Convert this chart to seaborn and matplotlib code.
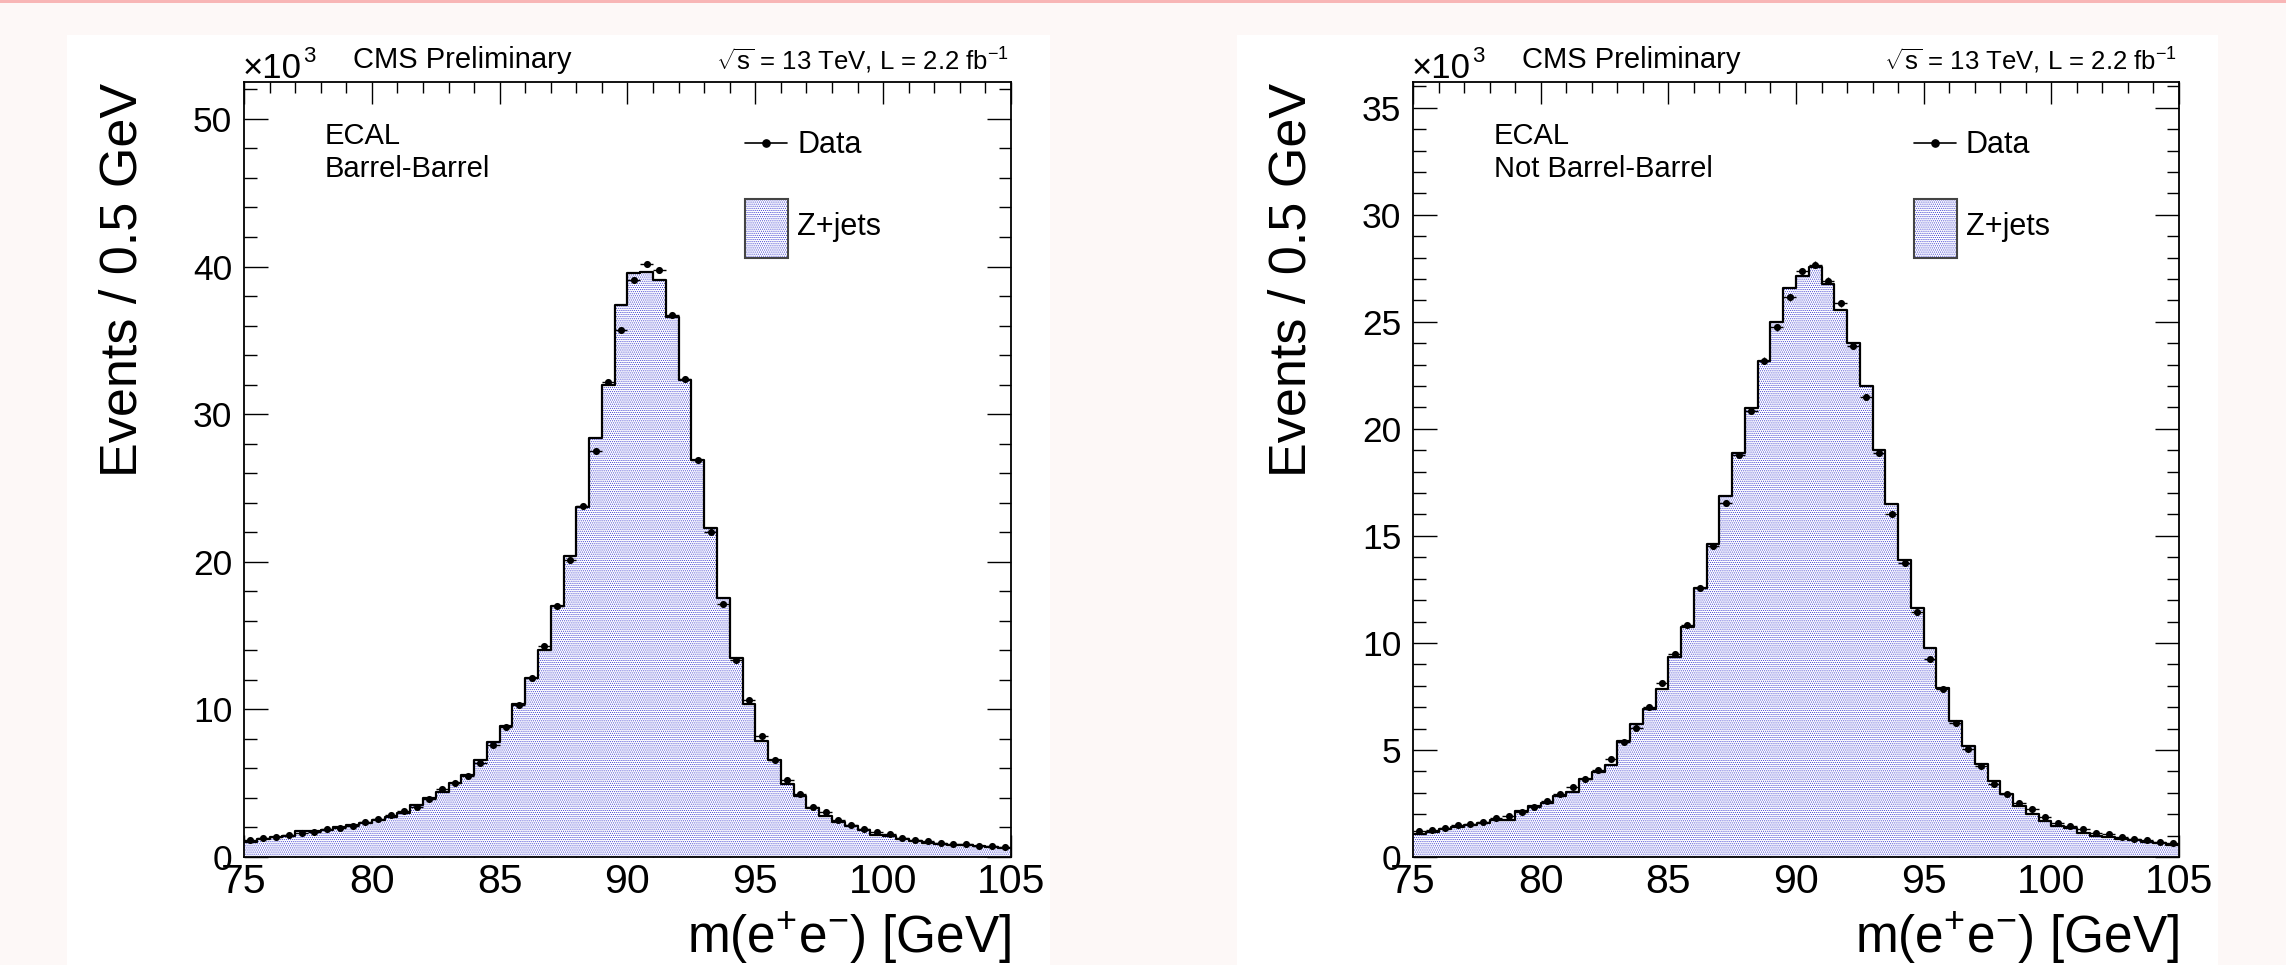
import numpy as np
import pandas as pd
import matplotlib
matplotlib.use("Agg")
import matplotlib.pyplot as plt
import seaborn as sns
from matplotlib.patches import Rectangle
from matplotlib.lines import Line2D
from matplotlib.ticker import MultipleLocator, FuncFormatter

# ---------------- data (events per 0.5 GeV, in units of 10^3) ----------------
mass_low, mass_high, bin_width = 75.0, 105.0, 0.5

bb_data = [1.15, 1.30, 1.37, 1.49, 1.60, 1.71, 1.87, 1.99, 2.12, 2.35,
           2.55, 2.85, 3.12, 3.42, 3.91, 4.59, 5.00, 5.52, 6.40, 7.57,
           8.82, 10.30, 12.10, 14.30, 17.00, 20.10, 23.75, 27.50, 32.18, 35.68,
           39.07, 40.20, 39.75, 36.75, 32.38, 26.87, 22.05, 17.16, 13.36, 10.64,
           8.23, 6.59, 5.23, 4.25, 3.41, 3.02, 2.50, 2.20, 1.93, 1.70,
           1.55, 1.32, 1.18, 1.09, 0.98, 0.91, 0.91, 0.77, 0.73, 0.68]
bb_mc = [1.04, 1.20, 1.33, 1.42, 1.78, 1.78, 1.83, 2.01, 2.17, 2.33,
         2.51, 2.73, 3.00, 3.52, 3.97, 4.38, 5.04, 5.56, 6.58, 7.82,
         8.86, 10.34, 12.10, 14.00, 17.00, 20.40, 23.70, 28.40, 31.95, 37.36,
         39.53, 39.64, 39.12, 36.59, 32.34, 26.90, 22.30, 17.57, 13.45, 10.39,
         7.84, 6.55, 4.93, 4.14, 3.30, 2.77, 2.39, 2.09, 1.82, 1.52,
         1.43, 1.20, 1.09, 0.98, 0.91, 0.84, 0.80, 0.73, 0.68, 0.64]

nbb_data = [1.21, 1.26, 1.34, 1.50, 1.54, 1.65, 1.81, 1.92, 2.12, 2.32,
            2.62, 2.93, 3.26, 3.63, 4.07, 4.56, 5.39, 6.04, 7.02, 8.15,
            9.49, 10.84, 12.56, 14.51, 16.54, 18.79, 20.84, 23.18, 24.74, 26.14,
            27.35, 27.66, 26.92, 25.87, 23.89, 21.48, 18.89, 16.04, 13.73, 11.44,
            9.25, 7.83, 6.28, 5.03, 4.25, 3.40, 2.93, 2.51, 2.24, 1.85,
            1.60, 1.46, 1.29, 1.11, 1.07, 0.95, 0.84, 0.79, 0.72, 0.67]
nbb_mc = [1.07, 1.18, 1.29, 1.42, 1.50, 1.60, 1.73, 1.73, 2.15, 2.38,
          2.54, 2.85, 3.05, 3.63, 3.99, 4.30, 5.42, 6.20, 6.90, 7.84,
          9.33, 10.76, 12.56, 14.62, 16.85, 18.86, 20.97, 23.15, 24.98, 26.57,
          27.12, 27.54, 26.78, 25.56, 24.00, 21.98, 18.99, 16.50, 13.88, 11.65,
          9.75, 7.88, 6.37, 5.19, 4.33, 3.57, 2.93, 2.40, 2.01, 1.70,
          1.45, 1.34, 1.11, 0.98, 0.95, 0.84, 0.79, 0.72, 0.64, 0.56]

regions = ["Barrel-Barrel", "Not Barrel-Barrel"]
y_tops = [52.5, 36.2]
y_major = [10, 5]
y_minor = [2, 1]

# ---------------- style ----------------
sns.set_style("ticks")
plt.rcParams["font.family"] = ["Liberation Sans", "DejaVu Sans"]
plt.rcParams["mathtext.fontset"] = "custom"
plt.rcParams["mathtext.rm"] = "Liberation Sans"
plt.rcParams["mathtext.it"] = "Liberation Sans:italic"
plt.rcParams["mathtext.bf"] = "Liberation Sans:bold"
plt.rcParams["hatch.linewidth"] = 0.5
for key in ["text.color", "axes.labelcolor", "xtick.color", "ytick.color",
            "xtick.labelcolor", "ytick.labelcolor", "axes.edgecolor"]:
    plt.rcParams[key] = "black"

W, H = 2286, 965
fig = plt.figure(figsize=(W / 100, H / 100), dpi=100, facecolor="#fdf8f7")


def fx(px):
    return px / W


def fy(py):
    return 1 - py / H


# top pink strip and white canvases (behind the axes)
fig.patches.append(Rectangle((0, fy(3)), 1, 3 / H, transform=fig.transFigure,
                             facecolor="#f8b6b6", edgecolor="none", zorder=-5))
for cx0, cx1 in [(67, 1050), (1237, 2218)]:
    fig.patches.append(Rectangle((fx(cx0), 0), fx(cx1) - fx(cx0), fy(35),
                                 transform=fig.transFigure, facecolor="white",
                                 edgecolor="none", zorder=-5))

n_bins = int(round((mass_high - mass_low) / bin_width))
centers = mass_low + bin_width * (np.arange(n_bins) + 0.5)

hatch_col = "#3a3ad0"
axes_px = [(244, 1011), (1413, 2179)]
ax_top, ax_bot = 82, 857
int_fmt = FuncFormatter(lambda v, p: f"{v:.0f}")

for i, (data, mc) in enumerate([(bb_data, bb_mc), (nbb_data, nbb_mc)]):
    x0, x1 = axes_px[i]
    ax = fig.add_axes([fx(x0), fy(ax_bot), fx(x1) - fx(x0), (ax_bot - ax_top) / H])
    ax.set_facecolor("white")
    df = pd.DataFrame({"mass": centers, "mc": mc, "data": data})

    n_before = len(ax.collections)
    sns.histplot(data=df, x="mass", weights="mc", bins=n_bins,
                 binrange=(mass_low, mass_high), element="step",
                 fill=True, ax=ax, linewidth=0, color=hatch_col, alpha=1)
    for coll in ax.collections[n_before:]:
        coll.set_facecolor("white")
        coll.set_edgecolor(hatch_col)
        coll.set_hatch("........")
        coll.set_linewidth(0)
    sns.histplot(data=df, x="mass", weights="mc", bins=n_bins,
                 binrange=(mass_low, mass_high), element="step",
                 fill=False, ax=ax, color="black", linewidth=1.6)

    yerr = np.sqrt(np.array(data) * 1000) / 1000
    ax.errorbar(df["mass"], df["data"], xerr=bin_width / 2, yerr=yerr, fmt="none",
                ecolor="black", elinewidth=1.0, capsize=0, zorder=5)
    sns.scatterplot(data=df, x="mass", y="data", ax=ax, color="black", s=26,
                    marker="o", edgecolor="black", linewidth=0, zorder=6)

    ax.set_xlim(mass_low, mass_high)
    ax.set_ylim(0, y_tops[i])
    ax.set_xlabel("")
    ax.set_ylabel("")
    ax.xaxis.set_major_locator(MultipleLocator(5))
    ax.xaxis.set_minor_locator(MultipleLocator(1))
    ax.yaxis.set_major_locator(MultipleLocator(y_major[i]))
    ax.yaxis.set_minor_locator(MultipleLocator(y_minor[i]))
    ax.tick_params(axis="both", which="both", direction="in", top=True, right=True,
                   color="black", width=1.0)
    ax.tick_params(axis="x", which="major", length=15.5, labelsize=29.5, pad=4)
    ax.tick_params(axis="x", which="minor", length=7.7)
    ax.tick_params(axis="y", which="major", length=17.5, labelsize=25.5, pad=8.5)
    ax.tick_params(axis="y", which="minor", length=9)
    for sp in ax.spines.values():
        sp.set_visible(True)
        sp.set_linewidth(1.3)
        sp.set_color("black")
    ax.xaxis.set_major_formatter(int_fmt)
    ax.yaxis.set_major_formatter(int_fmt)

    # texts above frame
    fig.text(fx(x0 - 1), fy(78), "\u00d710", fontsize=25, ha="left", va="baseline")
    fig.text(fx(x0 + 59), fy(62.5), "3", fontsize=16, ha="left", va="baseline")
    fig.text(fx(x0 + 109), fy(68), "CMS Preliminary", fontsize=21,
             ha="left", va="baseline")
    fig.text(fx(x1 - 2), fy(70), r"$\sqrt{\mathrm{s}}$ = 13 TeV, L = 2.2 fb$^{\mathrm{-1}}$",
             fontsize=18.5, ha="right", va="baseline")

    # region labels
    fig.text(fx(x0 + 81), fy(144), "ECAL", fontsize=21, ha="left", va="baseline")
    fig.text(fx(x0 + 81), fy(177), regions[i], fontsize=21, ha="left", va="baseline")

    # legend (drawn by hand to match ROOT layout)
    lx0, lx1 = x0 + 501, x0 + 543
    fig.add_artist(Line2D([fx(lx0), fx(lx1)], [fy(143), fy(143)], color="black",
                          lw=1.2, transform=fig.transFigure))
    fig.add_artist(Line2D([fx((lx0 + lx1) / 2)], [fy(143)], color="black",
                          marker="o", markersize=5.2, lw=0, transform=fig.transFigure))
    fig.text(fx(x0 + 553), fy(153), "Data", fontsize=22, ha="left", va="baseline")
    box = Rectangle((fx(lx0), fy(258)), fx(lx1 + 1) - fx(lx0), fy(199) - fy(258),
                    transform=fig.transFigure, facecolor="white", edgecolor=hatch_col,
                    linewidth=0, hatch="........")
    fig.add_artist(box)
    box2 = Rectangle((fx(lx0), fy(258)), fx(lx1 + 1) - fx(lx0), fy(199) - fy(258),
                     transform=fig.transFigure, facecolor="none", edgecolor="#444444",
                     linewidth=1.5)
    fig.add_artist(box2)
    fig.text(fx(x0 + 553), fy(235), "Z+jets", fontsize=22, ha="left", va="baseline")

    # axis titles
    fig.text(fx(x0 - 107), fy(83), "Events / 0.5 GeV", fontsize=37.5, rotation=90,
             rotation_mode="anchor", ha="right", va="baseline")
    fig.text(fx(x1), fy(953), r"m(e$^{\mathrm{+}}$e$^{\mathrm{-}}$) [GeV]", fontsize=37,
             ha="right", va="baseline")

fig.savefig("out.png", dpi=100, facecolor=fig.get_facecolor())
